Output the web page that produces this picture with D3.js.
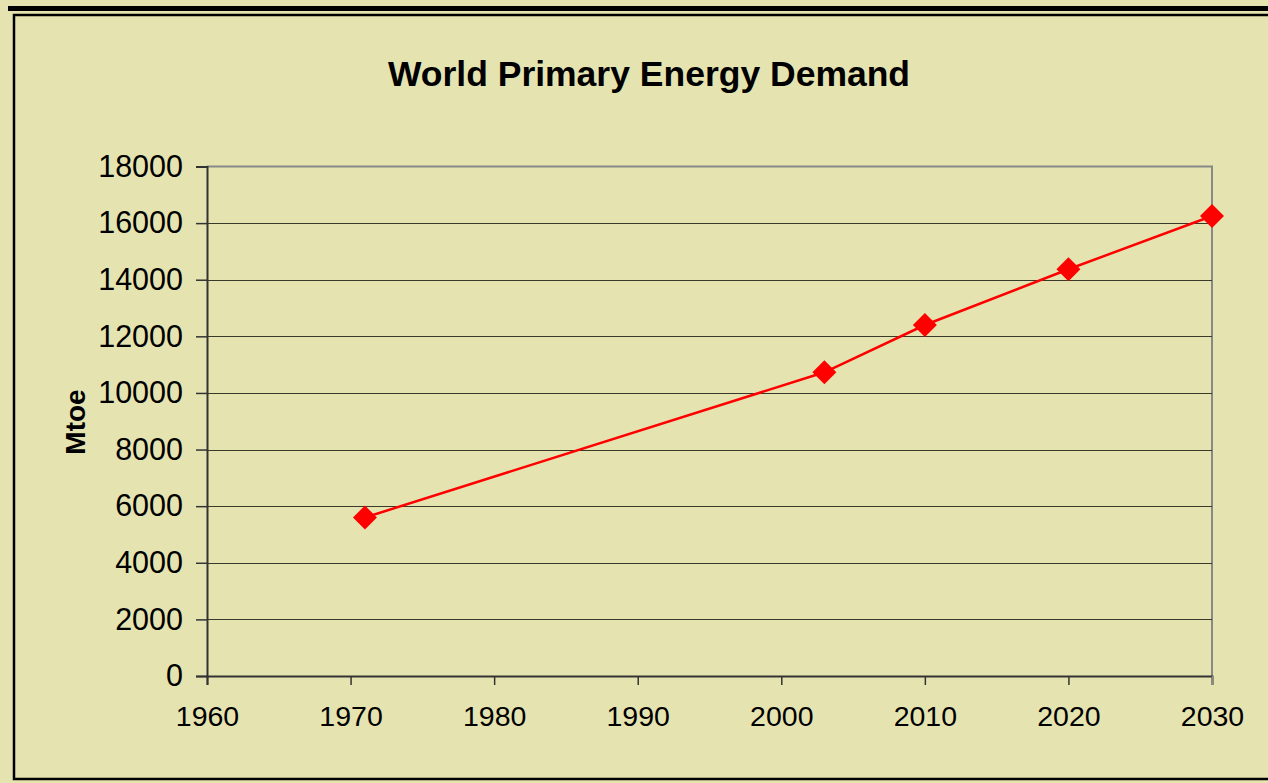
<!DOCTYPE html>
<html>
<head>
<meta charset="utf-8">
<script src="https://cdn.jsdelivr.net/npm/d3@7"></script>
<style>
html,body{margin:0;padding:0;background:#E5E4B1;}
svg{display:block;}
</style>
</head>
<body>
<svg id="chart" width="1268" height="783"></svg>
<script>
const years = [1971, 2003, 2010, 2020, 2030];
const demand = [5600, 10730, 12400, 14370, 16250];
const xTicks = [1960, 1970, 1980, 1990, 2000, 2010, 2020, 2030];
const yTicks = [0, 2000, 4000, 6000, 8000, 10000, 12000, 14000, 16000, 18000];
const title = "World Primary Energy Demand";
const yLabel = "Mtoe";

(function () {
const svg = d3.select("#chart");
const W = 1268, H = 783;
const bg = "#E5E4B1";
svg.append("rect").attr("width", W).attr("height", H).attr("fill", bg);

// frame lines
svg.append("rect").attr("x", 8).attr("y", 6).attr("width", W - 8).attr("height", 5).attr("fill", "#000");
svg.append("path").attr("d", `M${W},15 H14 V779 H${W}`).attr("fill", "none").attr("stroke", "#000").attr("stroke-width", 2.5);

const pL = 207, pR = 1212, pT = 166.5, pB = 676;
const x = d3.scaleLinear().domain([1960, 2030]).range([pL, pR]);
const y = d3.scaleLinear().domain([0, 18000]).range([pB, pT]);

const font = "Liberation Sans, Arial, sans-serif";

// title
svg.append("text").attr("x", 649).attr("y", 86).attr("text-anchor", "middle")
  .attr("font-family", font).attr("font-weight", "bold").attr("font-size", 35.5).attr("fill", "#000").text(title);

// plot area border (top/right grey)
svg.append("path").attr("d", `M${pL},${pT} H${pR} V${pB}`).attr("fill", "none").attr("stroke", "#888").attr("stroke-width", 2);

// gridlines
svg.append("g").selectAll("line").data(yTicks.filter(d => d > 0 && d < 18000)).join("line")
  .attr("x1", pL).attr("x2", pR).attr("y1", d => Math.round(y(d)) + 0.5).attr("y2", d => Math.round(y(d)) + 0.5)
  .attr("stroke", "#3a3a2a").attr("stroke-width", 1.2);

// y axis
const yAxis = d3.axisLeft(y).tickValues(yTicks).tickSize(11).tickPadding(13).tickFormat(d3.format("d"));
const gy = svg.append("g").attr("transform", `translate(${pL},0)`).call(yAxis);
gy.select(".domain").attr("stroke", "#333").attr("stroke-width", 2);
gy.selectAll(".tick line").attr("stroke", "#333").attr("stroke-width", 1.5);
gy.selectAll(".tick text").attr("font-family", font).attr("font-size", 30.5).attr("fill", "#000");

// x axis
const xAxis = d3.axisBottom(x).tickValues(xTicks).tickSize(9).tickPadding(21).tickFormat(d3.format("d"));
const gx = svg.append("g").attr("transform", `translate(0,${pB})`).call(xAxis);
gx.select(".domain").attr("stroke", "#333").attr("stroke-width", 2);
gx.selectAll(".tick line").attr("stroke", "#333").attr("stroke-width", 1.5);
gx.selectAll(".tick text").attr("font-family", font).attr("font-size", 28.5).attr("fill", "#000");
gx.selectAll(".tick").filter(d => d === 2030).select("line").attr("stroke", "#888");

// y label
svg.append("text").attr("transform", "translate(85,422) rotate(-90)").attr("text-anchor", "middle")
  .attr("font-family", font).attr("font-weight", "bold").attr("font-size", 28).attr("fill", "#000").text(yLabel);

// line
const data = years.map((yr, i) => ({yr, v: demand[i]}));
svg.append("path").datum(data)
  .attr("d", d3.line().x(d => x(d.yr)).y(d => y(d.v)))
  .attr("fill", "none").attr("stroke", "#FF0000").attr("stroke-width", 2.5);

const s = 12;
svg.append("g").selectAll("path").data(data).join("path")
  .attr("transform", d => `translate(${x(d.yr)},${y(d.v)})`)
  .attr("d", `M0,${-s} L${s},0 L0,${s} L${-s},0 Z`)
  .attr("fill", "#FF0000");
})();
</script>
</body>
</html>
